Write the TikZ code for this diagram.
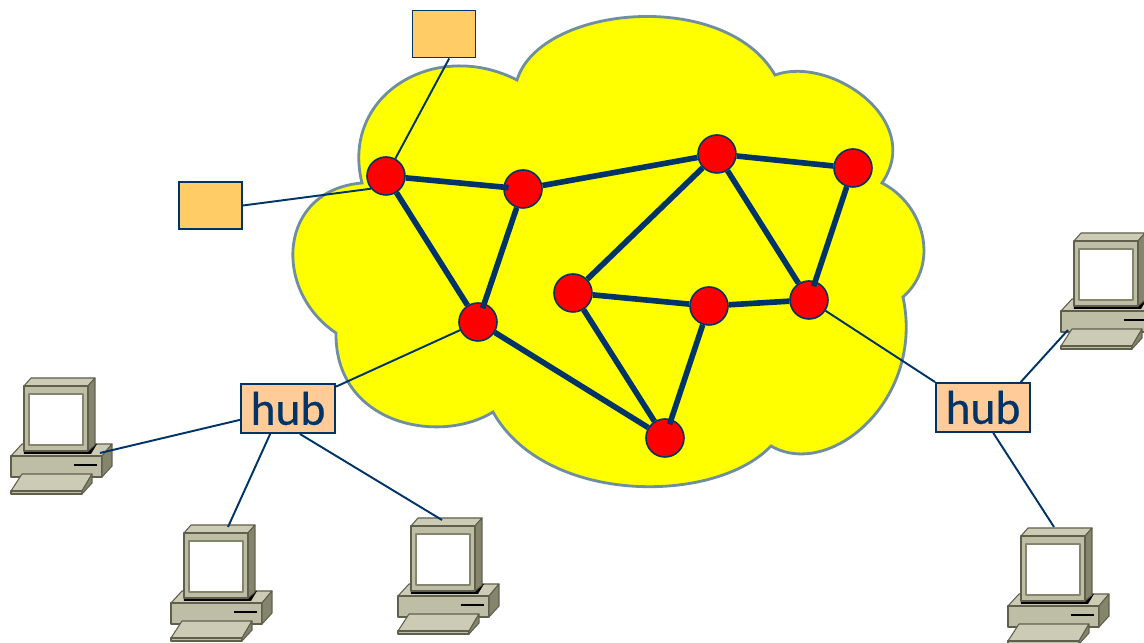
\documentclass[tikz,border=0pt]{standalone}
\usepackage{fontspec}
\usepackage{tikz}
\newfontfamily\hubfont[FakeBold=0.5]{Carlito}
\definecolor{navy}{HTML}{003366}
\definecolor{cloudfill}{HTML}{FFFF00}
\definecolor{cloudline}{HTML}{6F8F9F}
\definecolor{routerfill}{HTML}{FF0000}
\definecolor{hubfill}{HTML}{FFCC99}
\definecolor{hostfill}{HTML}{FFCC66}
\definecolor{pcface}{HTML}{BEBEA6}
\definecolor{pctop}{HTML}{CCCCB6}
\definecolor{pcside}{HTML}{85856D}
\definecolor{pcline}{HTML}{5F5F4C}
\tikzset {
    style router/.style={
        circle, % Set the shape as a circle
        fill=routerfill,
        draw=navy,
        line width=0.45pt,
        inner sep=0pt,
        minimum size=3.8mm,
    },
    style hub/.style={
        rectangle, % Set the shape as a rectangle
        fill=hubfill,
        draw=navy,
        line width=0.55pt,
        inner sep=0pt,
        minimum width=9.4mm,
        minimum height=4.9mm,
        text=navy,
        font=\hubfont\fontsize{13.5}{14}\selectfont,
    },
    style host/.style={
        rectangle, % Set the shape as a rectangle
        fill=hostfill,
        draw=navy,
        line width=0.55pt,
        inner sep=0pt,
        minimum width=6.3mm,
        minimum height=4.7mm,
    },
    style trunk/.style={draw=navy, line width=1.6pt},
    style stub/.style={style trunk, shorten >=-1.5pt},
    style link/.style={draw=navy, line width=0.55pt},
    pc/.pic={
        \begin{scope}[draw=pcline, line width=0.3pt, line join=round]
        % base
        \filldraw[fill=pctop] (11,456) -- (22,444) -- (112,444) -- (102,456) -- cycle;
        \filldraw[fill=pcface] (11,456) rectangle (102,477);
        \filldraw[fill=pcside] (102,456) -- (112,444) -- (112,466) -- (102,477) -- cycle;
        \fill[black] (24,451) -- (88,451) -- (95,444) -- (97,444) -- (91,454) -- (24,454) -- cycle;
        \draw[black, line width=0.35pt] (74,465) -- (97,465);
        % monitor
        \filldraw[fill=pctop] (24,386) -- (31,378) -- (95,378) -- (88,386) -- cycle;
        \filldraw[fill=pcside] (88,386) -- (95,378) -- (95,445) -- (88,451) -- cycle;
        \filldraw[fill=pcface] (24,386) rectangle (88,451);
        \filldraw[fill=white, draw=pcside, line width=0.45pt] (29,394) rectangle (83,445);
        % keyboard
        \filldraw[fill=pctop] (11,491) -- (22,474) -- (92,474) -- (82,491) -- cycle;
        \filldraw[fill=pcface] (11,491) rectangle (82,494);
        \filldraw[fill=pcside] (82,491) -- (92,474) -- (92,483) -- (82,494) -- cycle;
        \end{scope}
    },
}
\begin{document}
\begin{tikzpicture}[x=0.01cm, y=-0.01cm]
\clip (0,0) rectangle (1144,643);
\fill[white] (0,0) rectangle (1144,643);

\filldraw[fill=cloudfill, draw=cloudline, line width=0.8pt, line join=miter]
(362,183) .. controls (340,95) and (435,38) .. (517,80)
.. controls (540,5) and (725,-12) .. (775,75)
.. controls (830,55) and (925,120) .. (882,183)
.. controls (925,205) and (940,265) .. (903,297)
.. controls (925,400) and (830,480) .. (771,446)
.. controls (715,505) and (545,505) .. (493,412)
.. controls (440,445) and (335,425) .. (336,333)
.. controls (272,290) and (278,190) .. (362,183) -- cycle;

\pic at (0,0) {pc};
\pic at (160,147) {pc};
\pic at (387,140) {pc};
\pic at (997,150) {pc};
\pic at (1050,-145) {pc};

\coordinate (pcA) at (100,453);
\coordinate (pcB) at (228,527);
\coordinate (pcC) at (442,520);
\coordinate (pcD) at (1054,527);
\coordinate (pcE) at (1068,330);

\node[style router] at (386,176) (rA) {};
\node[style router] at (523,189) (rB) {};
\node[style router] at (717,154) (rC) {};
\node[style router] at (853,168) (rD) {};
\node[style router] at (478,322) (rE) {};
\node[style router] at (573,293) (rF) {};
\node[style router] at (709,306) (rG) {};
\node[style router] at (809,300) (rH) {};
\node[style router] at (665,438) (rI) {};

\node[style hub] at (288,408.5) (hubA) {hub};
\node[style hub] at (983,407.5) (hubB) {hub};
\node[style host] at (444,34) (boxA) {};
\node[style host] at (210.5,205.5) (boxB) {};

\draw[style stub] (rA) -- (rB);
\draw[style trunk] (rB) -- (rC);
\draw[style trunk] (rC) -- (rD);
\draw[style trunk] (rA) -- (rE);
\draw[style stub] (rB) -- (rE);
\draw[style trunk] (rC) -- (rF);
\draw[style trunk] (rC) -- (rH);
\draw[style stub] (rD) -- (rH);
\draw[style trunk] (rF) -- (rG);
\draw[style trunk] (rG) -- (rH);
\draw[style trunk] (rF) -- (rI);
\draw[style stub] (rG) -- (rI);
\draw[style trunk] (rE) -- (rI);

\draw[style link] (boxA.-78) -- (rA);
\draw[style link] (boxB.east) -- (rA.220);
\draw[style link] (hubA) -- (rE);
\draw[style link] (hubA) -- (pcA);
\draw[style link] (hubA.-125) -- (pcB);
\draw[style link] (hubA.-65) -- (pcC);
\draw[style link] (hubB.north west) -- (rH);
\draw[style link] (hubB.-68) -- (pcD);
\draw[style link] (hubB.34) -- (pcE);
\end{tikzpicture}
\end{document}
